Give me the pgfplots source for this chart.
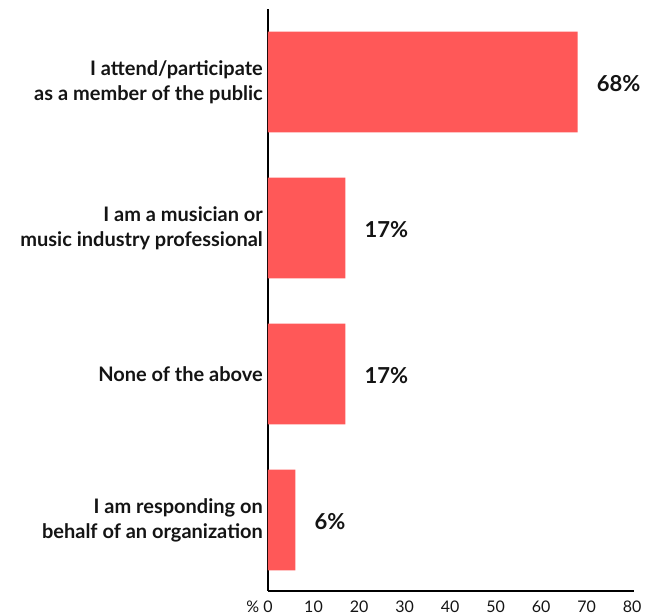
\documentclass[border=0pt]{standalone}
\usepackage{pgfplots}
\pgfplotsset{compat=1.18}
\usepackage{fontspec}
\setmainfont{Lato}
\definecolor{barred}{RGB}{255,88,88}
\definecolor{txt}{RGB}{20,20,20}
\begin{document}
\begin{tikzpicture}
\path[use as bounding box] (-268pt,-24pt) rectangle (378pt,591pt);
\begin{axis}[
  at={(0,0)}, anchor=south west,
  scale only axis,
  width=366pt, height=582pt,
  xbar, bar width=0.69,
  xmin=0, xmax=80.4,
  ymin=-0.486, ymax=3.5,
  axis lines*=left,
  axis line style={line width=2pt, black},
  xtick={0,10,...,80},
  ytick={0,1,2,3},
  yticklabels={{I am responding on\\behalf of an organization},{None of the above},{I am a musician or\\music industry professional},{I attend/participate\\as a member of the public}},
  major tick length=0pt,
  /pgf/number format/assume math mode=true,
  xticklabel style={font=\fontsize{16}{18}\selectfont, text=txt, anchor=north, inner sep=0pt, yshift=-10pt},
  yticklabel style={font=\bfseries\fontsize{20}{25}\selectfont, text=txt, align=right, inner sep=0pt, xshift=-5pt},
  nodes near coords={\pgfmathprintnumber{\pgfplotspointmeta}\%},
  point meta=x,
  nodes near coords style={font=\bfseries\fontsize{22}{22}\selectfont, text=txt, anchor=west, inner sep=0pt, xshift=19pt, yshift=-2pt},
  clip=false,
]
\addplot[fill=barred, draw=none] coordinates {(6,0) (17,1) (17,2) (68,3)};
\node[font=\fontsize{16}{18}\selectfont, text=txt, anchor=north east, inner sep=0pt] at (axis cs:0,-0.486) [yshift=-10pt, xshift=-8.5pt] {\%};
\end{axis}
\end{tikzpicture}
\end{document}
